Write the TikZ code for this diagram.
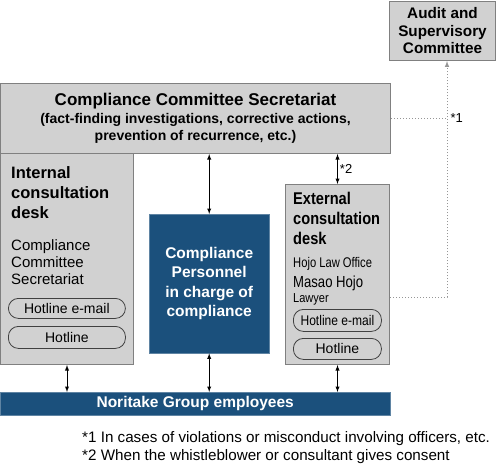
\documentclass[tikz,border=0pt]{standalone}
\usepackage{fontspec}
\setmainfont{Liberation Sans}
\newfontfamily\narrowsans[FakeStretch=0.86]{Liberation Sans}
\usetikzlibrary{shapes,arrows,positioning}

\definecolor{boxgray}{RGB}{209,209,209}
\definecolor{edgegray}{RGB}{128,128,128}
\definecolor{darkblue}{RGB}{27,80,124}
\definecolor{dotgray}{RGB}{150,150,150}

\tikzstyle{gbox} = [rectangle, draw=edgegray, fill=boxgray, line width=1pt, inner sep=0pt, anchor=north west]
\tikzstyle{bbox} = [rectangle, draw=darkblue!70!white, fill=darkblue, text=white, inner sep=0pt, anchor=north west, font=\fontsize{15.5}{19.5}\selectfont\bfseries]
\tikzstyle{pill} = [rectangle, rounded corners=10pt, draw=black!75, line width=0.8pt, inner sep=0pt, anchor=north west, font=\fontsize{14}{16}\selectfont]
\tikzstyle{txt} = [inner sep=0pt, anchor=north west, align=left]
\tikzstyle{line} = [draw, line width=0.9pt, latex-latex]
\tikzstyle{dline} = [draw=dotgray, line width=1pt, dotted]

\begin{document}
\begin{tikzpicture}[x=1pt, y=-1pt]
			\useasboundingbox (0,0) rectangle (500,467);
			% boxes
			\node [gbox, minimum width=106, minimum height=59, align=center, font=\fontsize{15.3}{17.5}\selectfont\bfseries] (audit) at (389,1) {Audit and\\Supervisory\\Committee};
			\node [gbox, minimum width=390, minimum height=70, align=center, font=\fontsize{14}{17.5}\selectfont\bfseries] (sec) at (0,83) {{\fontsize{17}{19}\selectfont Compliance Committee Secretariat}\\(fact-finding investigations, corrective actions,\\prevention of recurrence, etc.)};
			\node [gbox, minimum width=133, minimum height=211] (int) at (0,153) {};
			\node [gbox, minimum width=104, minimum height=180] (ext) at (285,184) {};
			\node [bbox, minimum width=120, minimum height=139, align=center] (pers) at (149,214) {Compliance\\Personnel\\in charge of\\compliance};
			\node [bbox, minimum width=390, minimum height=23] (emp) at (0,392) {Noritake Group employees};
			
			% internal desk
			\node [txt, font=\fontsize{16.5}{20}\selectfont\bfseries] (inthead) at (11,166) {Internal\\consultation\\desk};
			\node [txt, font=\fontsize{15}{17}\selectfont] (intname) at (11,239) {Compliance\\Committee\\Secretariat};
			\node [pill, minimum width=117, minimum height=20] (intmail) at (8,298) {Hotline e-mail};
			\node [pill, minimum width=117, minimum height=22] (inttel) at (8,326) {Hotline};
			
			% external desk
			\node [txt, font=\narrowsans\fontsize{17}{20}\selectfont\bfseries] (exthead) at (293,192) {External\\consultation\\desk};
			\node [txt, anchor=base west] (office) at (293,267) {\scalebox{0.8}[1]{\fontsize{14}{16}\selectfont Hojo Law Office}};
			\node [txt, anchor=base west] (lawyer) at (293,287) {\scalebox{0.82}[1]{\fontsize{16}{18}\selectfont Masao Hojo}};
			\node [txt, anchor=base west] (title) at (293,302) {\scalebox{0.85}[1]{\fontsize{13}{15}\selectfont Lawyer}};
			\node [pill, minimum width=88, minimum height=22, font=\narrowsans\fontsize{14}{16}\selectfont] (extmail) at (293,309) {Hotline e-mail};
			\node [pill, minimum width=88, minimum height=21] (exttel) at (293,338) {Hotline};
			
			% reporting lines
			\path [line] (int.south) -- (int.south |- emp.north);
			\path [line] (sec.south -| pers.north) -- (pers.north);
			\path [line] (pers.south) -- (pers.south |- emp.north);
			\path [line] (sec.south -| ext.north) -- (ext.north) node [midway, right, inner sep=2pt, font=\fontsize{13}{13}\selectfont] {*2};
			\path [line] (ext.south) -- (ext.south |- emp.north);
			
			% route to the audit committee
			\coordinate (bend) at (447,297);
			\path [dline] (sec.east) -- (sec.east -| bend) node [right, inner sep=3pt, font=\fontsize{13}{13}\selectfont] {*1};
			\path [dline, -latex] (ext.east |- bend) -| (audit.south -| bend);
			
			% notes
			\node [txt, anchor=base west, font=\fontsize{15.2}{18}\selectfont] (note1) at (82,442) {*1 In cases of violations or misconduct involving officers, etc.};
			\node [txt, anchor=base west, font=\fontsize{15.2}{18}\selectfont] (note2) at (82,460) {*2 When the whistleblower or consultant gives consent};
		\end{tikzpicture}
\end{document}
